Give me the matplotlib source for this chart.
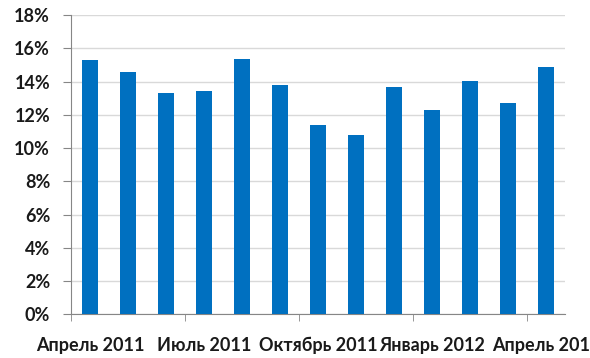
import numpy as np
import matplotlib
matplotlib.use("Agg")
import matplotlib.pyplot as plt
from matplotlib.ticker import FixedLocator, FuncFormatter

plt.rcParams['font.family'] = ['Lato', 'DejaVu Sans']

# monthly values, %
months = np.arange(13)
values = [15.3, 14.6, 13.3, 13.45, 15.35, 13.78, 11.4, 10.78, 13.66, 12.28, 14.02, 12.7, 14.88]
tick_labels = ["Апрель 2011", "Июль 2011", "Октябрь 2011", "Январь 2012", "Апрель 2012"]
label_pos = [0, 3, 6, 9, 12]

fig = plt.figure(figsize=(5.9, 3.58), dpi=100)
ax = fig.add_axes([71 / 590, 43.7 / 358, 494 / 590, 299.3 / 358])

ax.bar(months, values, width=0.4, color="#0070C0", zorder=3)

ax.set_xlim(-0.5, 12.5)
ax.set_ylim(0, 18)
ax.set_yticks(np.arange(0, 19, 2))
ax.yaxis.set_major_formatter(FuncFormatter(lambda v, p: f"{v:.0f}%"))
ax.grid(axis="y", color="#D9D9D9", linewidth=1, zorder=0)

ax.set_xticks(label_pos)
ax.set_xticklabels(tick_labels)
ax.xaxis.set_minor_locator(FixedLocator([-0.5, 2.5, 5.5, 8.5, 11.5]))
ax.tick_params(axis="x", which="major", length=0, pad=16, labelsize=13)
ax.tick_params(axis="x", which="minor", length=5, color="#868686")
ax.tick_params(axis="y", length=6, color="#868686", labelsize=13, pad=9)
for lbl in ax.get_xticklabels() + ax.get_yticklabels():
    lbl.set_fontweight("bold")
    lbl.set_color("#1a1a1a")

for side in ["top", "right"]:
    ax.spines[side].set_visible(False)
ax.spines["left"].set_color("#868686")
ax.spines["bottom"].set_color("#868686")

fig.savefig("out.png", dpi=100)
